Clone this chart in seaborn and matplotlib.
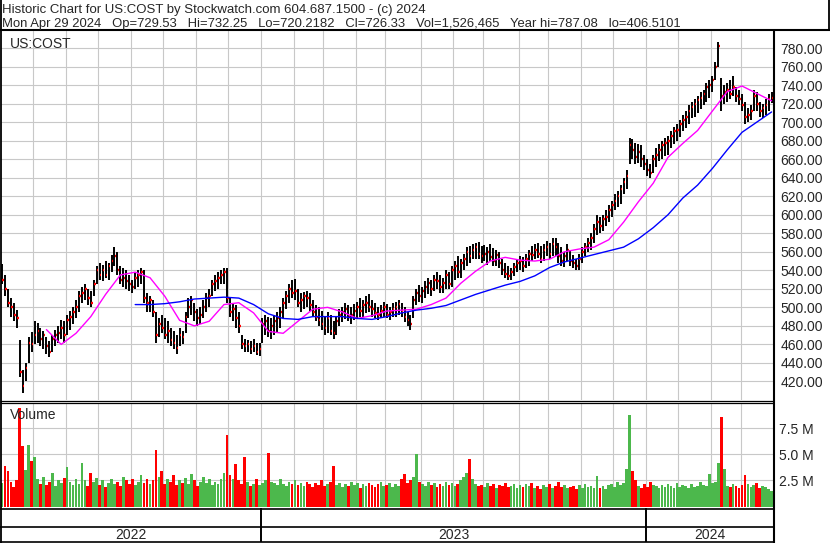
import numpy as np
import pandas as pd
import seaborn as sns
import matplotlib.pyplot as plt

sns.set_style('white')
plt.rcParams['font.family'] = ['Liberation Sans', 'DejaVu Sans']

# one bar every two trading days, May 2022 - Apr 2024
dates = pd.bdate_range('2022-05-02', '2024-04-29')[::2]

hi = [547, 535, 520, 510, 505, 497, 465, 432, 440, 468,
      473, 485, 483, 478, 475, 468, 464, 470, 476, 480,
      486, 485, 492, 496, 500, 508, 518, 522, 525, 520,
      518, 530, 545, 548, 546, 550, 548, 556, 565, 560,
      545, 542,
      540, 535, 530, 538, 540, 542, 540, 515, 512,
      508, 495, 488, 492, 488, 485, 478, 475, 470, 478,
      475, 495, 510, 512, 505, 498, 500, 508, 515, 520,
      530, 535, 538, 540, 542, 543, 510, 505, 502, 495,
      470, 466, 465, 464, 466, 462, 462, 488, 492, 490,
      488, 492, 495, 500, 510, 518, 525, 530, 531, 520,
      515, 517,
      518, 516, 508, 503, 500, 496, 490, 495, 492,
      485, 490, 498, 500, 505, 502, 500, 504, 506, 510,
      508, 512, 514, 508, 505, 500, 503, 506, 504, 500,
      505, 506, 508, 505, 500, 495, 492, 512, 520, 524,
      522, 528, 532, 530, 535, 538, 535, 532, 540, 538,
      545, 550, 555, 552, 558, 565, 566, 568, 570, 571,
      566, 567,
      565, 568, 564, 562, 560, 552, 548, 545, 542,
      548, 552, 555, 554, 558, 562, 566, 568, 570, 566,
      568, 572, 570, 575, 575, 570, 565, 560, 568, 562,
      556, 552, 558, 565, 570, 575, 580, 590, 600, 598,
      600, 605, 610, 615, 622, 626, 632, 640, 648, 683,
      682, 678, 676, 675, 665, 660, 655, 665, 672, 676,
      680, 683,
      685, 690, 695, 698, 702, 708, 712, 718, 722,
      725, 728, 732, 735, 742, 745, 750, 765, 787, 748,
      740, 742, 745, 750, 738, 735, 730, 722, 715, 718,
      735, 732, 722, 720, 725, 730, 732.25]

lo = [525, 512, 500, 490, 485, 478, 425, 407, 420, 440,
      452, 460, 462, 458, 455, 450, 446, 452, 458, 462,
      466, 462, 470, 476, 482, 488, 495, 505, 508, 503,
      500, 512, 525, 530, 528, 532, 530, 538, 545, 535,
      525, 522,
      520, 518, 515, 520, 522, 525, 505, 495, 495,
      490, 462, 468, 472, 466, 462, 458, 455, 450, 458,
      460, 472, 488, 492, 485, 480, 482, 488, 495, 500,
      512, 518, 520, 525, 525, 505, 490, 485, 478, 472,
      455, 452, 452, 450, 452, 449, 448, 462, 470, 468,
      466, 470, 472, 478, 488, 498, 505, 510, 508, 500,
      495, 498,
      500, 496, 490, 485, 480, 476, 470, 472, 470,
      466, 470, 480, 484, 487, 485, 482, 486, 488, 490,
      490, 494, 495, 490, 488, 486, 488, 490, 488, 486,
      490, 490, 492, 490, 484, 480, 476, 488, 502, 506,
      505, 510, 514, 512, 518, 520, 516, 515, 520, 520,
      522, 530, 532, 532, 540, 545, 548, 552, 552, 552,
      548, 550,
      546, 550, 545, 545, 542, 535, 532, 530, 530,
      534, 538, 540, 538, 542, 545, 550, 552, 553, 548,
      550, 555, 552, 555, 555, 548, 545, 544, 550, 545,
      542, 540, 540, 548, 555, 560, 562, 570, 578, 580,
      582, 588, 592, 598, 605, 608, 612, 622, 628, 655,
      660, 655, 656, 652, 648, 642, 640, 645, 652, 658,
      660, 663,
      665, 672, 676, 680, 684, 690, 694, 698, 704,
      706, 710, 714, 718, 722, 726, 732, 745, 760, 712,
      720, 722, 725, 728, 722, 718, 712, 698, 700, 702,
      712, 712, 705, 704, 708, 712, 720.22]

cl = [530, 520, 505, 500, 492, 488, 430, 415, 435, 462,
      460, 470, 475, 466, 470, 458, 452, 466, 470, 472,
      478, 470, 486, 490, 495, 500, 512, 516, 520, 510,
      505, 525, 540, 535, 540, 535, 545, 550, 555, 540,
      530, 532,
      528, 525, 522, 532, 535, 538, 510, 505, 508,
      495, 470, 482, 478, 470, 475, 465, 462, 456, 470,
      468, 490, 500, 508, 495, 488, 492, 500, 510, 512,
      525, 528, 532, 535, 538, 510, 495, 498, 488, 480,
      460, 458, 460, 455, 458, 452, 455, 482, 485, 475,
      480, 485, 488, 495, 505, 512, 520, 515, 518, 505,
      508, 512,
      510, 502, 495, 490, 486, 482, 478, 488, 475,
      472, 485, 492, 495, 498, 490, 492, 496, 500, 496,
      502, 505, 500, 498, 494, 492, 496, 500, 492, 495,
      498, 500, 504, 496, 490, 486, 482, 508, 515, 512,
      518, 522, 526, 520, 530, 528, 522, 526, 535, 525,
      540, 545, 538, 548, 552, 560, 555, 562, 565, 558,
      555, 558,
      560, 554, 550, 556, 548, 540, 536, 534, 538,
      544, 548, 550, 545, 552, 558, 556, 562, 558, 552,
      562, 565, 558, 568, 565, 555, 550, 555, 562, 550,
      548, 545, 552, 560, 565, 570, 575, 585, 592, 588,
      595, 598, 605, 610, 615, 620, 628, 635, 642, 675,
      670, 662, 668, 660, 655, 648, 645, 660, 665, 670,
      675, 678,
      680, 685, 690, 692, 698, 702, 706, 712, 716,
      720, 724, 726, 730, 738, 740, 745, 760, 782, 728,
      732, 735, 730, 738, 728, 725, 718, 705, 708, 712,
      728, 720, 712, 715, 718, 725, 726.33]

# volume in millions of shares
vol = [2.3, 3.9, 3.4, 2.4, 1.9, 2.5, 9.5, 5.8, 3.5, 5.9, 4.4, 4.8,
       2.6, 2.2, 2.8, 2.1, 2.4, 3.2, 2.0, 2.5, 2.3, 2.7,
       3.8, 2.4, 2.1, 2.6, 2.2, 4.2, 2.5, 2.0, 3.2, 2.4,
       2.7, 2.1, 2.5, 1.9, 2.3, 2.6, 2.2, 2.4, 2.0, 2.8,
       2.5, 2.2, 2.6, 2.1, 2.4, 3.0, 2.3, 2.6, 2.2, 2.5,
       5.4, 2.8, 3.4, 2.2, 2.6, 2.4, 3.0, 2.1, 2.5, 2.3,
       2.7, 2.2, 3.1, 2.5, 2.0, 2.4, 2.8, 2.3, 2.6, 2.1,
       2.4, 2.2, 2.6, 3.2, 6.9, 3.0, 2.6, 4.1, 2.5, 2.2,
       4.8, 2.4, 2.0, 2.2, 2.6, 2.1, 2.3, 2.5, 5.1, 2.4,
       2.3, 2.1, 2.6, 2.2, 2.0, 2.4, 2.2, 2.5, 2.1, 2.3,
       2.0, 2.4, 2.2, 1.9, 2.3, 2.1, 2.5, 2.0, 2.2, 2.4,
       3.9, 2.1, 2.3, 1.9, 2.2, 2.0, 2.4, 2.1, 2.3, 1.8,
       2.2, 2.0, 2.3, 2.1, 1.9, 2.2, 2.4, 2.0, 2.1, 2.3,
       1.9, 2.2, 2.0, 2.6, 3.1, 2.3, 2.5, 2.8, 5.0, 2.4,
       2.2, 2.0, 2.4, 2.1, 2.3, 1.9, 2.2, 2.0, 2.4, 2.1,
       2.3, 2.0, 2.2, 2.5, 2.8, 3.2, 4.6, 2.6, 2.2, 2.0,
       2.1, 1.9, 2.3, 2.0, 2.2, 1.8, 2.1, 2.0, 2.3, 1.9,
       2.0, 2.2, 1.8, 2.1, 1.9, 2.2, 2.0, 2.3, 1.8, 2.0,
       1.7, 2.1, 1.9, 2.2, 1.8, 2.0, 2.4, 1.9, 2.1, 1.8,
       1.9, 2.0, 1.7, 2.1, 1.8, 2.2, 1.9, 2.0, 1.8, 2.9,
       1.8, 2.0, 1.7, 2.1, 2.2, 1.9, 2.4, 2.1, 2.3, 3.6,
       8.8, 3.4, 2.5, 2.0, 1.8, 2.2, 1.9, 2.4, 2.1, 2.0,
       1.8, 2.1, 1.9, 2.2, 2.0, 1.8, 2.3, 1.9, 2.1, 2.0,
       1.8, 2.2, 1.9, 2.0, 2.4, 2.1, 2.0, 3.1, 2.3, 2.4,
       4.2, 8.6, 3.6, 2.0, 1.9, 2.2, 2.0, 1.8, 2.1, 3.0,
       2.2, 1.9, 2.1, 2.3, 1.8, 2.0, 1.9, 1.7, 1.5]

# moving averages, one value every 5 bars
ma_fast = [476, 460, 472, 490, 514, 535, 538, 532, 512, 486,
           480, 485, 503, 505, 494, 474, 472, 485, 498, 500,
           495, 488, 491, 496, 497, 498, 503, 510, 526, 539,
           550, 554, 551, 550, 552, 560, 563, 565, 573, 592,
           614, 634, 662, 677, 691, 712, 733, 739, 731, 723]
ma_slow = [503, 503, 504, 506, 509, 510, 511, 510, 503, 493,
           488, 487, 490, 490, 490, 488, 487, 490, 494, 497,
           499, 502, 508, 514, 519, 524, 528, 534, 543, 549,
           553, 557, 561, 565, 574, 586, 600, 618, 632, 650,
           670, 689, 700, 711]

price_ticks = list(range(420, 781, 20))
vol_ticks = [2.5, 5.0, 7.5]

header1 = 'Historic Chart for US:COST by Stockwatch.com 604.687.1500 - (c) 2024'
header2 = ('Mon Apr 29 2024   Op=729.53   Hi=732.25   Lo=720.2182   Cl=726.33   '
           'Vol=1,526,465   Year hi=787.08   lo=406.5101')

n = len(dates)
x = np.arange(n)
df = pd.DataFrame({'date': dates, 'x': x, 'hi': hi, 'lo': lo, 'cl': cl, 'vol': vol})
df_fast = pd.DataFrame({'x': x[15::5][:len(ma_fast)], 'ma': ma_fast})
df_slow = pd.DataFrame({'x': x[45::5][:len(ma_slow)], 'ma': ma_slow})

month_edge = x[1:][dates.month[1:] != dates.month[:-1]] - 0.5
year_edge = x[1:][dates.year[1:] != dates.year[:-1]] - 0.5

up = df['cl'].diff().fillna(0) >= 0
bar_colors = np.where(up, '#4CB84C', '#FF0000')

W, H = 830, 543
fig = plt.figure(figsize=(W / 100, H / 100), dpi=100)


def box(x0, y0, x1, y1):
    return [x0 / W, 1 - y1 / H, (x1 - x0) / W, (y1 - y0) / H]


px = 2.96  # pixels per bar
xl = (-1 / px, -1 / px + 773 / px)
grid_kw = dict(color='#C8C8C8', lw=0.8)

# price panel
ax_p = fig.add_axes(box(1, 31, 774, 399.5))
ax_p.vlines(df['x'], df['lo'], df['hi'], color='black', lw=1.4)
ax_p.hlines(df['cl'], df['x'] + 0.1, df['x'] + 0.6, color='#FF0000', lw=1.7)
sns.lineplot(data=df_fast, x='x', y='ma', color='#FF00FF', lw=1, ax=ax_p)
sns.lineplot(data=df_slow, x='x', y='ma', color='#0000FF', lw=1, ax=ax_p)
ax_p.set_xlim(*xl)
ax_p.set_ylim(400.5, 798.4)
ax_p.set_xticks(month_edge)
ax_p.set_yticks(price_ticks)
ax_p.set_yticklabels([f'{t:.2f}' for t in price_ticks])
ax_p.yaxis.tick_right()
ax_p.tick_params(axis='x', length=0, labelbottom=False)
ax_p.tick_params(axis='y', length=0, pad=4.5, labelsize=10)
ax_p.grid(True, **grid_kw)
ax_p.set_axisbelow(True)
ax_p.set_xlabel('')
ax_p.set_ylabel('')
ax_p.text(0.011, 0.985, 'US:COST', transform=ax_p.transAxes, fontsize=10, va='top')

# volume panel
ax_v = fig.add_axes(box(1, 403.5, 774, 506.5))
ax_v.bar(df['x'], df['vol'], width=0.92, color=bar_colors, linewidth=0)
ax_v.set_xlim(*xl)
ax_v.set_ylim(0, 9.9)
ax_v.set_xticks(month_edge)
ax_v.set_yticks(vol_ticks)
ax_v.set_yticklabels([f'{t:.1f} M' for t in vol_ticks])
ax_v.yaxis.tick_right()
ax_v.tick_params(axis='x', length=0, labelbottom=False)
ax_v.tick_params(axis='y', length=0, pad=3.5, labelsize=10)
ax_v.grid(True, **grid_kw)
ax_v.set_axisbelow(True)
ax_v.text(0.011, 0.96, 'Volume', transform=ax_v.transAxes, fontsize=10, va='top')

# date strip
ax_d = fig.add_axes(box(1, 508, 774, 542))
ax_d.set_xlim(*xl)
ax_d.set_ylim(542, 508)
ax_d.axis('off')
ax_d.vlines(year_edge, 508, 542, color='black', lw=1.4)
bounds = [xl[0]] + list(year_edge) + [xl[1]]
for i, yr in enumerate(sorted(set(dates.year))):
    ax_d.text((bounds[i] + bounds[i + 1]) / 2, 535, str(yr), ha='center', va='center', fontsize=10)

for a in (ax_p, ax_v):
    for s in a.spines.values():
        s.set_visible(False)

# frame
ax_o = fig.add_axes([0, 0, 1, 1], zorder=5)
ax_o.set_xlim(0, W)
ax_o.set_ylim(H, 0)
ax_o.axis('off')
k = dict(color='black', solid_capstyle='butt')
ax_o.plot([0, W], [30.2, 30.2], lw=1.5, **k)
ax_o.plot([0.9, 0.9], [0, H], lw=1.3, **k)
ax_o.plot([828.5, 828.5], [0, 31], lw=1.3, **k)
ax_o.plot([774.3, 774.3], [30, H], lw=1.5, **k)
ax_o.plot([0, 774], [400.5, 400.5], lw=0.9, **k)
ax_o.plot([0, 774], [402.7, 402.7], lw=0.9, **k)
ax_o.plot([0, 774], [509, 509], lw=1.2, **k)
ax_o.plot([0, 774], [527, 527], lw=1.2, **k)
ax_o.plot([0, 774], [541.5, 541.5], lw=1.2, **k)
ax_o.text(2, 13, header1, fontsize=9.5, va='baseline')
ax_o.text(2, 27, header2, fontsize=9.4, va='baseline')

fig.savefig('out.png', dpi=100)
